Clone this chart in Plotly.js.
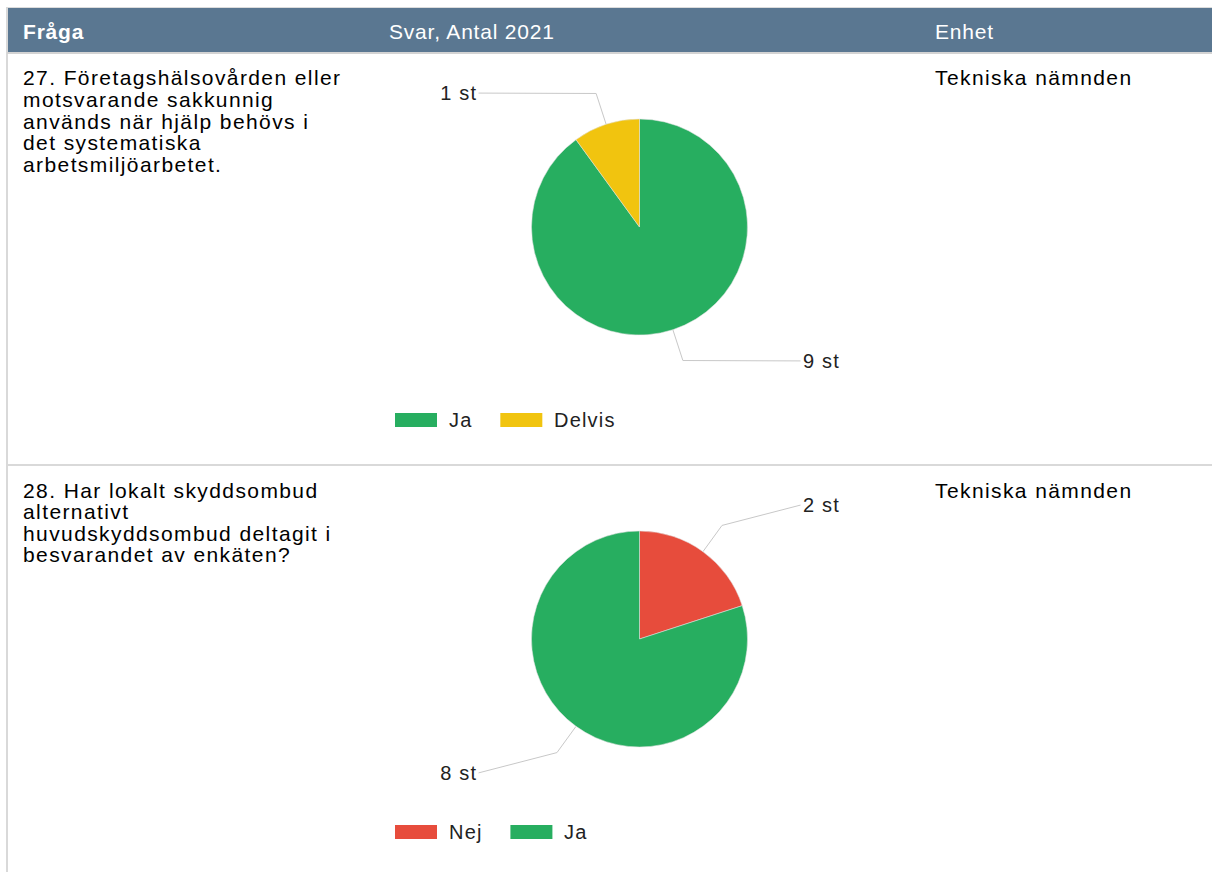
<!DOCTYPE html>
<html>
<head>
<meta charset="utf-8">
<script src="https://cdn.plot.ly/plotly-3.0.1.min.js"></script>
<style>
  html, body { margin: 0; padding: 0; background: #ffffff; }
  #chart { width: 1212px; height: 872px; }
</style>
</head>
<body>
<div id="chart"></div>
<script>
// ---------- data ----------
const headers = ['Fråga', 'Svar, Antal 2021', 'Enhet'];
const q27Lines = ['27. Företagshälsovården eller', 'motsvarande sakkunnig', 'används när hjälp behövs i', 'det systematiska', 'arbetsmiljöarbetet.'];
const q28Lines = ['28. Har lokalt skyddsombud', 'alternativt', 'huvudskyddsombud deltagit i', 'besvarandet av enkäten?'];
const units = ['Tekniska nämnden', 'Tekniska nämnden'];
const q27Labels = ['Ja', 'Delvis'];
const q27Values = [9, 1];
const q28Labels = ['Nej', 'Ja'];
const q28Values = [2, 8];
const valueSuffix = ' st';
const answerColors = { 'Ja': '#27ae60', 'Delvis': '#f1c40f', 'Nej': '#e74c3c' };

// ---------- layout helpers ----------
const W = 1212, H = 872;
const X = v => v / W;
const Y = v => 1 - v / H;
const FONT = 'Liberation Sans, Arial, sans-serif';
const headSize = 21, headSpacing = 0.8;
const bodySize = 21, bodySpacing = 1.4;
const labelSize = 20, labelSpacing = 1.2;
const rowTops = [54, 466];
const colX = [23, 389, 935];
const pieCx = 639.5, pieOffY = 173, pieR = 108;
const legendOffY = 366, legendX = 395;

const shapes = [];
const annotations = [];
const annSpacing = [];

function line(x0, y0, x1, y1, color, width) {
  shapes.push({ type: 'line', xref: 'paper', yref: 'paper', x0: X(x0), y0: Y(y0), x1: X(x1), y1: Y(y1),
    line: { color: color, width: width } });
}
function rect(x0, y0, x1, y1, fill) {
  shapes.push({ type: 'rect', xref: 'paper', yref: 'paper', x0: X(x0), y0: Y(y0), x1: X(x1), y1: Y(y1),
    fillcolor: fill, line: { width: 0 }, layer: 'below' });
}
function text(t, x, y, opts) {
  opts = opts || {};
  const anchor = opts.xanchor || 'left';
  annotations.push({ xref: 'paper', yref: 'paper', x: X(x), y: Y(y), text: t, showarrow: false,
    xanchor: anchor, yanchor: 'middle', align: anchor, borderpad: 0,
    font: { family: FONT, size: opts.size || bodySize, color: opts.color || '#000000' } });
  annSpacing.push(opts.spacing === undefined ? bodySpacing : opts.spacing);
}

// table frame
rect(7, 8, W, 52, '#5a7791');
line(6, 7.5, W, 7.5, '#dcdcdc', 1);
line(7, 7, 7, H, '#d9d9d9', 2);
line(7, 53, W, 53, '#d3d3d3', 2);
line(7, 465, W, 465, '#d9d9d9', 2);

// header texts
headers.forEach((h, i) => {
  text(i === 0 ? '<b>' + h + '</b>' : h, colX[i] - 1, 31, { color: '#ffffff', size: headSize, spacing: headSpacing });
});

// question texts + units
[q27Lines, q28Lines].forEach((lines, r) => {
  lines.forEach((l, i) => text(l, colX[0] - 1, rowTops[r] + 24 + i * 21.6));
  text(units[r], colX[2] - 1, rowTops[r] + 24);
});

// text measuring for legend
const cvs = document.createElement('canvas').getContext('2d');
function textWidth(t, size, spacing) {
  cvs.font = size + 'px "Liberation Sans", Arial, sans-serif';
  return cvs.measureText(t).width + (t.length - 1) * spacing;
}

const traces = [];
[[q27Labels, q27Values], [q28Labels, q28Values]].forEach(([labels, values], r) => {
  const cy = rowTops[r] + pieOffY;
  traces.push({
    type: 'pie', labels: labels, values: values, sort: false, direction: 'clockwise', rotation: 0,
    marker: { colors: labels.map(l => answerColors[l]), line: { color: 'rgba(225,225,225,0.9)', width: 0.6 } },
    textinfo: 'none', hoverinfo: 'label+value', showlegend: false,
    domain: { x: [X(pieCx - pieR), X(pieCx + pieR)], y: [Y(cy + pieR), Y(cy - pieR)] }
  });
  // leader lines and value labels
  const total = values.reduce((a, b) => a + b, 0);
  let acc = 0;
  values.forEach((v, i) => {
    const mid = (acc + v / 2) / total * 2 * Math.PI;
    acc += v;
    const s = Math.sin(mid), c = Math.cos(mid);
    const ex = pieCx + pieR * s, ey = cy - pieR * c;
    const bx = pieCx + 1.3 * pieR * s, by = cy - 1.3 * pieR * c;
    const side = s >= 0 ? 1 : -1;
    const vdir = c >= 0 ? -1 : 1;
    const ly = cy + vdir * Math.max(Math.abs(1.3 * pieR * c), 1.24 * pieR);
    const lx = pieCx + side * 162;
    shapes.push({ type: 'path', xref: 'paper', yref: 'paper',
      path: 'M' + X(ex) + ',' + Y(ey) + ' L' + X(bx) + ',' + Y(by) + ' L' + X(lx - side * 1) + ',' + Y(ly),
      line: { color: '#c8c8c8', width: 1 } });
    text(v + valueSuffix, lx + (side < 0 ? labelSpacing : 0), ly,
      { xanchor: side > 0 ? 'left' : 'right', size: labelSize, color: '#222222', spacing: labelSpacing });
  });
  // legend
  const ly = rowTops[r] + legendOffY;
  let x = legendX;
  labels.forEach(l => {
    rect(x, ly - 7, x + 42, ly + 7, answerColors[l]);
    text(l, x + 53, ly, { size: labelSize, color: '#222222', spacing: labelSpacing });
    x += 53 + textWidth(l, labelSize, labelSpacing) + 30;
  });
});

const layout = {
  width: W, height: H, margin: { l: 0, r: 0, t: 0, b: 0 },
  paper_bgcolor: '#ffffff', plot_bgcolor: '#ffffff',
  showlegend: false, shapes: shapes, annotations: annotations
};

function spaceTexts(gd) {
  gd.querySelectorAll('g.annotation').forEach(g => {
    const idx = +g.getAttribute('data-index');
    const t = g.querySelector('text.annotation-text');
    if (!t || annSpacing[idx] === undefined) return;
    t.style.letterSpacing = annSpacing[idx] + 'px';
  });
}
Plotly.newPlot('chart', traces, layout, { displayModeBar: false, staticPlot: true })
  .then(gd => spaceTexts(gd));
</script>
</body>
</html>
